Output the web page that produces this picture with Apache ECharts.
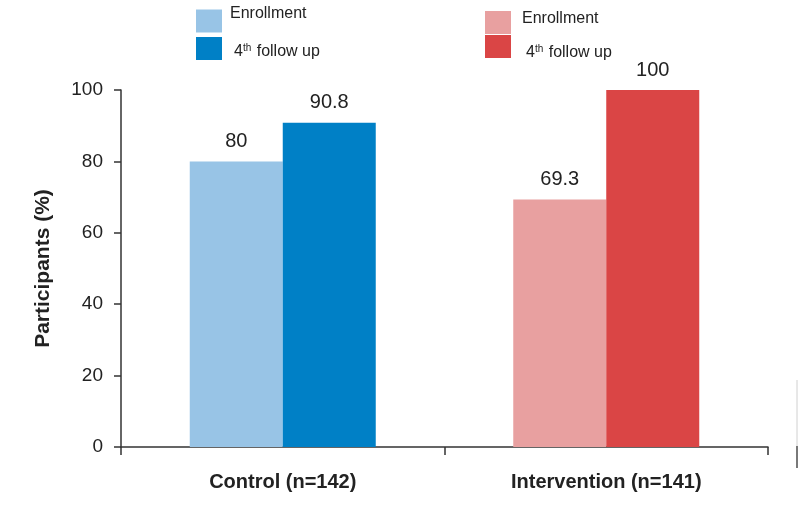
<!DOCTYPE html>
<html>
<head>
<meta charset="utf-8">
<script src="https://cdn.jsdelivr.net/npm/echarts@6/dist/echarts.min.js"></script>
<style>
  html, body { margin: 0; padding: 0; background: #fff; }
  #chart { width: 798px; height: 510px; }
</style>
</head>
<body>
<div id="chart"></div>
<script>
// data
var groups = ["Control (n=142)", "Intervention (n=141)"];
var controlEnrollment = [80, "-"];
var controlFollowUp = [90.8, "-"];
var interventionEnrollment = ["-", 69.3];
var interventionFollowUp = ["-", 100];
var yTicks = [0, 20, 40, 60, 80, 100];

var font = "Liberation Sans";
var colors = {
    ctrlEnr: "#98c4e6",
    ctrlFu: "#0080c6",
    intEnr: "#e8a0a0",
    intFu: "#da4545"
};

var chart = echarts.init(document.getElementById("chart"));

// legend text: "Enrollment" or "4th follow up" with superscript
var legendRich = {
    n: { fontSize: 16, fontFamily: font, color: "#222", lineHeight: 17 },
    s: { fontSize: 10, fontFamily: font, color: "#222", lineHeight: 17, verticalAlign: "top", padding: [0, 1, 0, 0] }
};
function legendText(name) {
    if (name.indexOf("follow") >= 0) {
        return "{n|4}{s|th}{n| follow up}";
    }
    return "{n|Enrollment}";
}
function oneLegend(name, left, top, pad) {
    return {
        data: [{ name: name, textStyle: { padding: pad } }],
        left: left,
        top: top,
        padding: 0,
        icon: "rect",
        itemWidth: 26,
        itemHeight: 23,
        selectedMode: false,
        formatter: legendText,
        textStyle: { rich: legendRich, fontFamily: font, fontSize: 16, color: "#222" }
    };
}

function barSeries(name, stack, data, color) {
    return {
        name: name,
        type: "bar",
        stack: stack,
        data: data,
        barWidth: 93,
        barGap: "0%",
        itemStyle: { color: color },
        label: {
            show: true,
            position: "top",
            distance: 10,
            fontSize: 20,
            fontFamily: font,
            color: "#222"
        }
    };
}

var option = {
    animation: false,
    backgroundColor: "#fff",
    textStyle: { fontFamily: font },
    legend: [
        oneLegend("Control enrollment", 196, 6, [0, 0, 14, 3]),
        oneLegend("Control 4th follow up", 196, 37, [6, 0, 0, 7]),
        oneLegend("Intervention enrollment", 485, 11, [0, 0, 7, 6]),
        oneLegend("Intervention 4th follow up", 485, 35, [12, 0, 0, 10])
    ],
    grid: { left: 121, right: 30, top: 90, bottom: 63, containLabel: false },
    xAxis: {
        type: "category",
        data: groups,
        axisLine: { lineStyle: { color: "#333", width: 1.5 } },
        axisTick: { show: true, length: 8, lineStyle: { color: "#333", width: 1.5 } },
        axisLabel: {
            margin: 25,
            fontSize: 20,
            fontWeight: "bold",
            fontFamily: font,
            color: "#222"
        }
    },
    yAxis: {
        type: "value",
        min: yTicks[0],
        max: yTicks[yTicks.length - 1],
        interval: yTicks[1] - yTicks[0],
        name: "Participants (%)",
        nameLocation: "middle",
        nameGap: 67,
        nameTextStyle: { fontSize: 21, fontWeight: "bold", fontFamily: font, color: "#222" },
        splitLine: { show: false },
        axisLine: { show: true, lineStyle: { color: "#333", width: 1.5 } },
        axisTick: { show: true, length: 7, lineStyle: { color: "#333", width: 1.5 } },
        axisLabel: { margin: 18, fontSize: 19, fontFamily: font, color: "#222" }
    },
    series: [
        barSeries("Control enrollment", "enr", controlEnrollment, colors.ctrlEnr),
        barSeries("Control 4th follow up", "fu", controlFollowUp, colors.ctrlFu),
        barSeries("Intervention enrollment", "enr", interventionEnrollment, colors.intEnr),
        barSeries("Intervention 4th follow up", "fu", interventionFollowUp, colors.intFu)
    ],
    // faint edge line seen at the right border of the source image
    graphic: [
        { type: "line", shape: { x1: 797, y1: 380, x2: 797, y2: 468 }, style: { stroke: "#d0d0d0", lineWidth: 1 } },
        { type: "line", shape: { x1: 797, y1: 446, x2: 797, y2: 468 }, style: { stroke: "#555", lineWidth: 1.5 } }
    ]
};

chart.setOption(option);
</script>
</body>
</html>
